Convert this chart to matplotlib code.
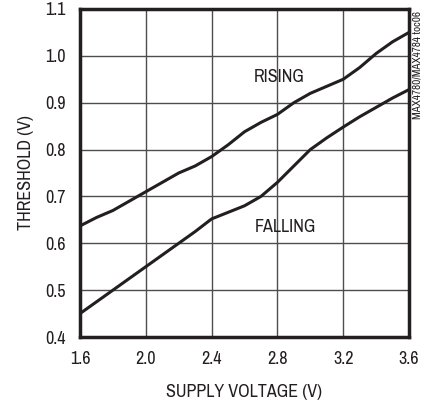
import matplotlib.pyplot as plt
from matplotlib import font_manager

# condensed face like the datasheet's Helvetica Narrow, if one is around
names = {f.name for f in font_manager.fontManager.ttflist}
narrow = [n for n in ['Archivo Narrow', 'Liberation Sans Narrow', 'Roboto Condensed'] if n in names]
plt.rcParams['font.family'] = narrow + ['Liberation Sans', 'DejaVu Sans']

supply_v = [1.6, 1.7, 1.8, 1.9, 2.0, 2.1, 2.2, 2.3, 2.4, 2.5, 2.6,
            2.7, 2.8, 2.9, 3.0, 3.1, 3.2, 3.3, 3.4, 3.5, 3.6]
rising = [0.637, 0.655, 0.670, 0.690, 0.710, 0.730, 0.750, 0.765, 0.785, 0.810, 0.838,
          0.858, 0.875, 0.900, 0.920, 0.935, 0.950, 0.975, 1.005, 1.030, 1.050]
falling = [0.450, 0.475, 0.500, 0.525, 0.550, 0.575, 0.600, 0.625, 0.652, 0.666, 0.680,
           0.700, 0.730, 0.765, 0.800, 0.825, 0.848, 0.870, 0.890, 0.910, 0.928]

xticks = [1.6, 2.0, 2.4, 2.8, 3.2, 3.6]
yticks = [0.4, 0.5, 0.6, 0.7, 0.8, 0.9, 1.0, 1.1]

fig = plt.figure(figsize=(4.27, 4.01), dpi=100)
ax = fig.add_axes([80 / 427, 1 - 337 / 401, 329 / 427, 328 / 401])

ax.plot(supply_v, rising, color='#231f20', lw=2.2)
ax.plot(supply_v, falling, color='#231f20', lw=2.2)

ax.set_xlim(1.6, 3.6)
ax.set_ylim(0.4, 1.1)
ax.set_xticks(xticks)
ax.set_xticklabels([f'{v:.1f}' for v in xticks])
ax.set_yticks(yticks)
ax.set_yticklabels([f'{v:.1f}' for v in yticks])
ax.tick_params(length=0, labelsize=13, pad=10, colors='#231f20')
ax.grid(True, color='#4d4d4d', lw=1.0)
ax.set_axisbelow(True)
for s in ax.spines.values():
    s.set_linewidth(2.5)
    s.set_color('#231f20')

ax.set_xlabel('SUPPLY VOLTAGE (V)', fontsize=13, color='#231f20', labelpad=12)
ax.set_ylabel('THRESHOLD (V)', fontsize=13, color='#231f20', labelpad=8)

ax.text(2.81, 0.955, 'RISING', fontsize=13, ha='center', va='center', color='#231f20')
ax.text(2.85, 0.635, 'FALLING', fontsize=13, ha='center', va='center', color='#231f20')
fig.text(418 / 427, 1 - 65 / 401, 'MAX4780/MAX4784 toc06', rotation=90, fontsize=8,
         ha='center', va='center', color='#231f20')

fig.savefig('out.png', dpi=100)
